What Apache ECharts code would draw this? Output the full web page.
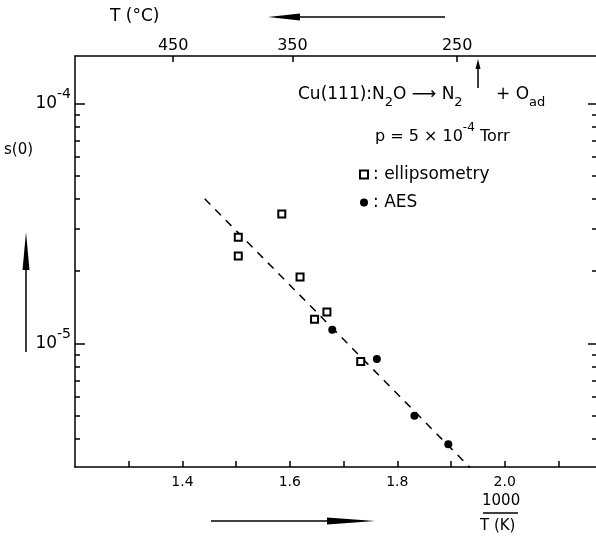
<!DOCTYPE html>
<html>
<head>
<meta charset="utf-8">
<script src="https://cdn.jsdelivr.net/npm/echarts@6/dist/echarts.min.js"></script>
<style>
html, body { margin: 0; padding: 0; background: #fff; }
#chart { width: 596px; height: 539px; }
</style>
</head>
<body>
<div id="chart"></div>
<script>
// ellipsometry points: 1000/T(K) and s(0)
const ellipsX = [1.504, 1.504, 1.585, 1.619, 1.646, 1.669, 1.732];
const ellipsS = [2.77e-5, 2.31e-5, 3.46e-5, 1.89e-5, 1.26e-5, 1.35e-5, 8.4e-6];
// AES points
const aesX = [1.679, 1.762, 1.832, 1.895];
const aesS = [1.14e-5, 8.6e-6, 5.0e-6, 3.8e-6];
// dashed fit line (ends)
const fitX = [1.4415, 1.936];
const fitS = [4.0e-5, 3.03e-6];

// axes
const xTicks = [1.3, 1.4, 1.5, 1.6, 1.7, 1.8, 1.9, 2.0, 2.1];
const xLabels = [1.4, 1.6, 1.8, 2.0];
const tempC = [450, 350, 250]; // top axis, T in °C
const sDecades = [1e-5, 1e-4];
const sMinor = [3e-6, 4e-6, 5e-6, 6e-6, 7e-6, 8e-6, 9e-6,
  2e-5, 3e-5, 4e-5, 5e-5, 6e-5, 7e-5, 8e-5, 9e-5];

const FONT = "DejaVu Sans";
const lg = Math.log10;
const xMin = 1.2, xMax = 2.17;
const yMin = -5.515, yMax = -3.803; // log10 s(0)

const tempPos = tempC.map((c) => 1000 / (c + 273.15));

const myChart = echarts.init(document.getElementById("chart"));

const black = { color: "#000", width: 1.5 };

function yAx(pos, ticks, len, labels) {
  return {
    type: "value",
    position: pos,
    min: yMin,
    max: yMax,
    axisLine: { show: labels, lineStyle: black },
    axisTick: { inside: true, length: len, customValues: ticks, lineStyle: black },
    axisLabel: labels
      ? {
          customValues: ticks,
          formatter: (v) => "{b|10}{e|" + Math.round(v) + "}",
          margin: 4,
          color: "#000",
          rich: {
            b: { fontSize: 17, fontFamily: FONT, lineHeight: 32, verticalAlign: "middle", color: "#000" },
            e: { fontSize: 14, fontFamily: FONT, lineHeight: 14, verticalAlign: "top", color: "#000" }
          }
        }
      : { show: false },
    splitLine: { show: false }
  };
}

// text helper for the annotations
function txt(x, y, text, size, rich) {
  return {
    type: "text",
    left: x,
    top: y,
    style: {
      text: text,
      fill: "#000",
      font: size + "px " + FONT,
      rich: rich
    }
  };
}
const richSub = (size) => ({
  n: { fontSize: size, fontFamily: FONT, lineHeight: 30, verticalAlign: "middle", color: "#000" },
  s: { fontSize: size - 4, fontFamily: FONT, lineHeight: 14, verticalAlign: "bottom", color: "#000" },
  u: { fontSize: size - 4, fontFamily: FONT, lineHeight: 12, verticalAlign: "top", color: "#000" }
});

function arrowLine(x1, y1, x2, y2) {
  return { type: "line", shape: { x1, y1, x2, y2 }, style: { stroke: "#000", lineWidth: 1.5 } };
}
function head(points) {
  return { type: "polygon", shape: { points: points }, style: { fill: "#000" } };
}

let option = {
  animation: false,
  backgroundColor: "#fff",
  grid: { left: 75, right: 0, top: 56, bottom: 72 },
  xAxis: [
    {
      type: "value",
      position: "bottom",
      min: xMin,
      max: xMax,
      axisLine: { lineStyle: black },
      axisTick: { inside: true, length: 6, customValues: xTicks, lineStyle: black },
      axisLabel: {
        customValues: xLabels,
        formatter: (v) => v.toFixed(1),
        color: "#000",
        fontSize: 14,
        fontFamily: FONT,
        margin: 8
      },
      splitLine: { show: false }
    },
    {
      type: "value",
      position: "top",
      min: xMin,
      max: xMax,
      axisLine: { lineStyle: black },
      axisTick: { inside: true, length: 6, customValues: tempPos, lineStyle: black },
      axisLabel: {
        customValues: tempPos,
        formatter: (v) => String(Math.round(1000 / v - 273.15)),
        color: "#000",
        fontSize: 16,
        fontFamily: FONT,
        margin: 2
      },
      splitLine: { show: false }
    }
  ],
  yAxis: [
    yAx("left", sDecades.map(lg), 10, true),
    yAx("left", sMinor.map(lg), 5, false),
    yAx("right", sDecades.map(lg), 8, false),
    yAx("right", sMinor.map(lg), 4, false)
  ],
  legend: {
    orient: "vertical",
    left: 354,
    top: 161,
    itemWidth: 8,
    itemHeight: 8,
    itemGap: 11,
    data: ["ellipsometry", "AES"],
    formatter: ": {name}",
    textStyle: { fontSize: 17, fontFamily: FONT, color: "#000" }
  },
  series: [
    {
      name: "fit",
      type: "line",
      data: fitX.map((x, i) => [x, lg(fitS[i])]),
      symbol: "none",
      silent: true,
      z: 1,
      lineStyle: { color: "#000", width: 1.5, type: [8, 7] }
    },
    {
      name: "ellipsometry",
      type: "scatter",
      data: ellipsX.map((x, i) => [x, lg(ellipsS[i])]),
      symbol: "emptyRect",
      symbolSize: 7,
      z: 3,
      itemStyle: { color: "#000", borderColor: "#000", borderWidth: 1.8, opacity: 1 }
    },
    {
      name: "AES",
      type: "scatter",
      data: aesX.map((x, i) => [x, lg(aesS[i])]),
      symbol: "circle",
      symbolSize: 8,
      z: 3,
      itemStyle: { color: "#000", opacity: 1 }
    }
  ],
  graphic: [
    txt(110, 8, "T (°C)", 17),
    arrowLine(445, 17, 290, 17),
    head([[268, 17], [300, 13.5], [300, 20.5]]),
    txt(4, 143, "s(0)", 15),
    arrowLine(26, 352, 26, 260),
    head([[26, 232], [22.5, 270], [29.5, 270]]),
    txt(482, 494, "1000", 15),
    arrowLine(483, 513, 518, 513),
    txt(480, 519, "T (K)", 15),
    arrowLine(211, 521, 340, 521),
    head([[375, 521], [327, 517.5], [327, 524.5]]),
    txt(298, 86, "{n|Cu(111):N}{s|2}{n|O ⟶ N}{s|2}", 17, richSub(17)),
    txt(496, 86, "{n|+ O}{s|ad}", 17, richSub(17)),
    arrowLine(478, 88, 478, 66),
    head([[478, 59], [475.5, 69], [480.5, 69]]),
    txt(375, 122, "{n|p = 5 × 10}{u|-4}{n| Torr}", 16, richSub(16))
  ]
};
myChart.setOption(option);
</script>
</body>
</html>
